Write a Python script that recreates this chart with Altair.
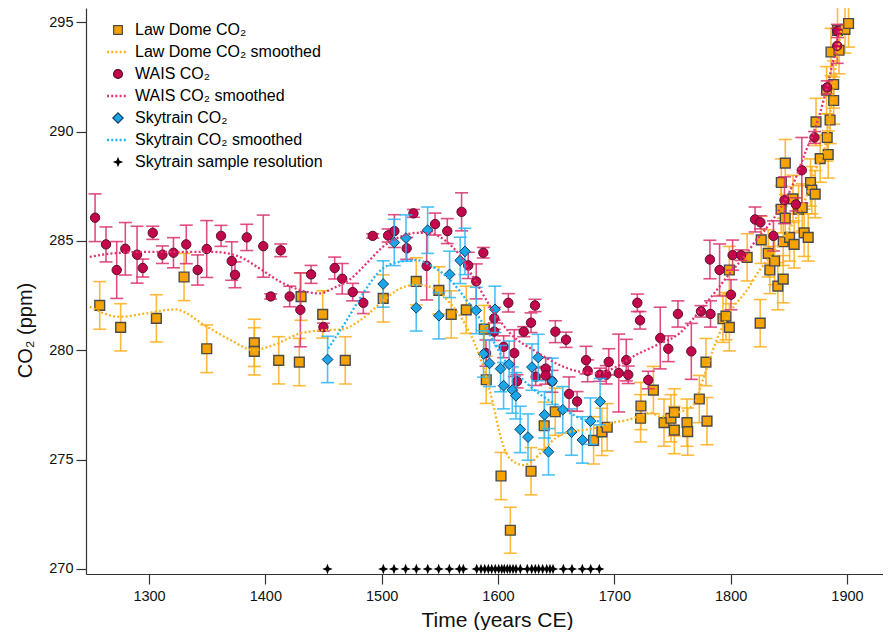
import altair as alt
import pandas as pd

# ---------------- data ----------------
ld_year = [1257.6, 1275.6, 1306.3, 1330.1, 1349.6, 1390.5, 1390.5, 1411.5, 1429.2, 1430.7,
           1449.3, 1468.7, 1501.3, 1529.7, 1549.2, 1559.8, 1572.7, 1588.2, 1589.9, 1602.6,
           1610.6, 1628.4, 1639.7, 1649.2, 1682.2, 1689.3, 1693.9, 1722.6, 1722.9, 1733.6,
           1742.7, 1748.7, 1751.6, 1751.6, 1762.5, 1763.1, 1773.1, 1778.8, 1779.7, 1793.4,
           1796.0, 1798.9, 1798.9, 1814.2, 1825.4, 1826.3, 1832.3, 1833.7, 1837.8, 1840.6,
           1843.4, 1843.6, 1845.2, 1845.2, 1846.9, 1847.0, 1850.7, 1853.6, 1854.6, 1858.4,
           1861.5, 1863.2, 1866.7, 1868.7, 1869.8, 1872.7, 1873.4, 1877.0, 1882.5, 1883.0,
           1883.9, 1885.5, 1886.3, 1888.6, 1888.6, 1891.9, 1893.2, 1898.3, 1901.4]
ld_co2 = [282.05, 281.05, 281.46, 283.35, 280.07, 280.34, 279.95, 279.54, 279.46, 282.45,
          281.64, 279.54, 282.37, 283.15, 282.74, 281.64, 281.85, 280.97, 278.65, 274.25,
          271.77, 274.47, 276.55, 277.19, 275.88, 276.27, 276.48, 276.89, 277.45, 278.18,
          276.69, 276.89, 277.16, 276.35, 276.69, 276.28, 277.77, 279.46, 276.76, 281.44,
          281.56, 281.05, 283.67, 284.25, 281.24, 285.05, 284.43, 283.67, 284.08, 282.93,
          286.45, 287.67, 283.25, 284.96, 286.04, 288.56, 285.16, 286.92, 284.84, 286.45,
          286.53, 285.37, 285.16, 287.67, 287.32, 287.14, 290.44, 288.76, 291.89, 289.73,
          288.95, 290.53, 293.64, 292.15, 291.42, 294.63, 293.72, 294.67, 294.94]
ld_err = [1.09, 1.08, 1.08, 1.08, 1.09, 1.08, 1.08, 1.08, 1.08, 1.08,
          1.08, 1.08, 1.08, 1.08, 1.08, 1.08, 1.08, 1.08, 1.08, 1.08,
          1.05, 1.08, 1.08, 1.08, 1.08, 1.08, 1.08, 1.08, 1.08, 1.08,
          1.08, 1.08, 1.08, 1.08, 1.08, 1.08, 1.08, 1.08, 1.08, 1.08,
          1.08, 1.08, 1.08, 1.08, 1.08, 1.08, 1.08, 1.08, 1.08, 1.08,
          1.08, 1.08, 1.08, 1.08, 1.08, 1.08, 1.08, 1.08, 1.08, 1.08,
          1.08, 1.08, 1.08, 1.08, 1.08, 1.08, 1.08, 1.08, 1.08, 1.08,
          1.08, 1.08, 1.08, 1.08, 1.08, 1.08, 1.08, 1.08, 1.08]

wais_year = [1253.6, 1263.0, 1272.2, 1279.6, 1289.7, 1294.6, 1303.2, 1311.5, 1321.0, 1332.0,
             1341.8, 1349.6, 1361.9, 1371.1, 1373.9, 1384.0, 1398.2, 1404.6, 1413.2, 1420.9,
             1430.1, 1439.3, 1449.9, 1459.6, 1466.1, 1475.1, 1484.2, 1492.3, 1505.5, 1510.9,
             1521.5, 1527.3, 1538.7, 1545.9, 1556.4, 1568.7, 1574.4, 1581.3, 1587.4, 1589.7,
             1596.8, 1596.8, 1604.9, 1608.9, 1614.0, 1616.3, 1622.1, 1628.4, 1631.8, 1632.4,
             1641.0, 1641.0, 1646.4, 1649.3, 1658.5, 1661.1, 1668.0, 1675.7, 1677.1, 1687.7,
             1693.1, 1695.2, 1703.8, 1710.3, 1712.0, 1719.8, 1722.1, 1729.2, 1739.5, 1746.4,
             1754.7, 1766.2, 1774.5, 1782.2, 1782.7, 1790.5, 1800.3, 1801.7, 1808.9, 1821.0,
             1825.6, 1836.8, 1846.3, 1856.1, 1861.2, 1872.1, 1883.0, 1891.6, 1891.9]
wais_co2 = [286.06, 284.84, 283.67, 284.64, 284.37, 283.76, 285.37, 284.37, 284.46, 284.84,
            283.67, 284.63, 285.23, 284.08, 283.45, 285.16, 284.76, 282.46, 284.57, 282.46,
            281.85, 283.47, 281.06, 283.76, 283.27, 282.66, 282.17, 285.23, 285.25, 285.45,
            284.66, 286.26, 283.86, 285.77, 285.45, 286.33, 283.88, 283.15, 284.46, 279.87,
            281.46, 280.85, 280.16, 282.17, 279.87, 278.58, 280.85, 281.26, 282.05, 278.79,
            279.16, 278.85, 278.58, 280.85, 280.48, 278.00, 277.66, 279.55, 279.06, 278.88,
            278.88, 279.47, 278.96, 279.55, 278.88, 282.17, 281.37, 278.64, 280.56, 280.07,
            281.66, 279.95, 281.78, 284.15, 281.66, 283.67, 282.54, 284.35, 284.35, 285.98,
            285.85, 285.23, 286.86, 286.67, 288.23, 289.73, 292.02, 293.92, 294.60]
wais_err = [1.09, 0.80, 1.30, 1.20, 1.30, 0.41, 0.30, 0.40, 0.69, 0.88,
            0.69, 1.30, 0.48, 0.88, 0.59, 0.60, 1.42, 0.12, 0.29, 0.47,
            1.69, 0.41, 0.18, 0.50, 0.70, 0.40, 0.49, 0.10, 0.30, 0.75,
            0.50, 0.18, 1.56, 0.50, 0.57, 0.87, 0.60, 0.80, 0.24, 0.60,
            0.50, 0.40, 0.50, 0.42, 1.07, 0.30, 0.23, 0.45, 0.28, 0.40,
            0.50, 0.40, 0.50, 0.50, 0.35, 0.78, 0.45, 0.63, 0.50, 0.30,
            0.42, 0.60, 1.78, 0.95, 0.40, 0.40, 0.40, 0.40, 1.41, 0.59,
            0.60, 1.28, 0.26, 0.88, 0.60, 1.19, 0.69, 0.69, 0.24, 0.57,
            0.30, 0.69, 1.07, 0.30, 1.50, 0.27, 0.30, 0.80, 0.30]

sky_year = [1453.5, 1501.3, 1510.8, 1520.9, 1529.7, 1539.5, 1549.2, 1558.4, 1567.5, 1571.6,
            1581.3, 1587.6, 1592.7, 1597.4, 1602.2, 1604.8, 1609.6, 1612.3, 1615.4, 1619.1,
            1625.8, 1629.2, 1634.6, 1640.0, 1643.4, 1646.7, 1655.7, 1663.2, 1672.6, 1679.5,
            1687.8]
sky_co2 = [279.58, 283.03, 284.93, 285.13, 281.94, 285.49, 281.58, 283.47, 284.11, 284.52,
           281.82, 279.83, 279.40, 281.87, 279.16, 278.38, 279.36, 278.18, 277.92, 276.38,
           276.03, 279.23, 279.67, 277.05, 275.36, 278.58, 277.28, 276.26, 275.90, 276.76,
           277.65]
sky_err = [1.06, 1.06, 1.06, 1.06, 1.06, 1.06, 1.06, 1.06, 1.06, 1.06,
           1.06, 1.06, 1.06, 1.06, 1.06, 1.06, 1.06, 1.06, 1.06, 1.06,
           1.06, 1.06, 1.06, 1.06, 1.06, 1.06, 1.06, 1.06, 1.06, 1.06,
           1.06]

ld_sm_year = [1249, 1275, 1298, 1322, 1350, 1370, 1390, 1407, 1430, 1450, 1465, 1481, 1500,
              1515, 1530, 1545, 1559, 1573, 1587, 1596, 1601, 1607, 1616, 1622, 1629, 1639,
              1650, 1662, 1673, 1688, 1696, 1711, 1722, 1731, 1740, 1754, 1768, 1777, 1788,
              1799, 1814, 1825, 1837, 1848, 1865, 1874, 1883, 1887, 1891, 1896]
ld_sm_co2 = [281.99, 281.53, 281.69, 281.87, 281.07, 280.47, 280.01, 280.24, 280.77, 280.92,
             280.95, 281.35, 282.2, 282.8, 283.0, 282.83, 282.14, 281.07, 279.3, 277.5, 276.3,
             275.3, 274.83, 274.75, 274.91, 275.44, 276.0, 276.28, 276.35, 276.5, 276.66,
             276.81, 277.0, 277.15, 276.96, 277.14, 277.5, 278.79, 280.47, 281.69, 282.75,
             283.67, 284.5, 285.34, 287.0, 288.39, 289.76, 291.44, 293.26, 294.86]

wais_sm_year = [1249, 1269, 1298, 1327, 1355, 1378, 1395, 1413, 1430, 1447, 1458, 1473, 1487,
                1501, 1516, 1530, 1542, 1556, 1567, 1578, 1594, 1610, 1633, 1650, 1670, 1685,
                1699, 1719, 1731, 1739, 1756, 1774, 1788, 1799, 1814, 1820, 1831, 1840, 1854,
                1865, 1871, 1880, 1887, 1894]
wais_sm_co2 = [284.27, 284.43, 284.5, 284.5, 284.5, 284.27, 283.74, 283.13, 282.75, 282.6,
               282.83, 283.25, 283.97, 284.73, 285.19, 285.37, 285.34, 284.96, 284.35, 283.4,
               281.95, 280.8, 279.93, 279.4, 279.02, 278.95, 279.17, 279.8, 280.1, 280.3,
               280.77, 281.84, 282.75, 283.5, 284.43, 284.9, 285.6, 286.26, 287.63, 289.15,
               289.91, 291.44, 292.96, 294.86]

sky_sm_year = [1454, 1470, 1484, 1500, 1516, 1530, 1544, 1559, 1573, 1587, 1594, 1605, 1616,
               1628, 1648, 1662, 1676, 1688]
sky_sm_co2 = [280.08, 281.38, 282.6, 283.7, 284.05, 284.12, 283.82, 283.21, 282.29, 281.23,
              280.6, 279.6, 278.95, 278.33, 277.57, 277.12, 276.81, 276.75]

sky_res_year = [1453.4, 1501.4, 1510.6, 1520.6, 1529.8, 1539.6, 1549.0, 1558.2, 1566.8, 1570.2,
                1581.7, 1585.4, 1588.6, 1591.7, 1594.6, 1597.7, 1600.6, 1603.2, 1605.4, 1608.0,
                1610.3, 1612.9, 1615.5, 1619.2, 1625.2, 1629.0, 1632.1, 1635.0, 1638.4, 1641.9,
                1644.7, 1647.3, 1656.2, 1663.6, 1672.5, 1679.7, 1687.1]
sky_res_co2 = 270

legend_labels = ["Law Dome CO₂", "Law Dome CO₂ smoothed", "WAIS CO₂", "WAIS CO₂ smoothed",
                 "Skytrain CO₂", "Skytrain CO₂ smoothed", "Skytrain sample resolution"]
x_ticks = [1300, 1400, 1500, 1600, 1700, 1800, 1900]
y_ticks = [270, 275, 280, 285, 290, 295]

# ---------------- styling ----------------
FONT = "Liberation Sans"
LD_FILL, LD_BAR, LD_LINE = "#F5A300", "#FFAE1A", "#FFB21E"
WA_FILL, WA_BAR, WA_LINE = "#C2084B", "#D9306D", "#E2336F"
SK_FILL, SK_BAR, SK_LINE = "#1CA6E8", "#2DB6F6", "#22B4F8"
STAR_PATH = "M0,-1L0.28,-0.28L1,0L0.28,0.28L0,1L-0.28,0.28L-1,0L-0.28,-0.28Z"

W, H = 797, 566
xs = alt.Scale(domain=[1245.8, 1931], nice=False, zero=False)
ys = alt.Scale(domain=[269.77, 295.65], nice=False, zero=False)

x_axis = alt.Axis(values=x_ticks, format="d", title="Time (years CE)", grid=False,
                  tickSize=10, labelPadding=5, labelFontSize=14.5, titleFontSize=21,
                  titleFontWeight="normal", titleBaseline="middle", titleY=46, titleX=411,
                  titleAlign="center",
                  domainColor="#333333", tickColor="#333333", labelColor="#111111",
                  titleColor="#111111", labelFont=FONT, titleFont=FONT)
y_axis = alt.Axis(values=y_ticks, format="d", title="CO₂ (ppm)", grid=False,
                  tickSize=10, labelPadding=3, labelFontSize=14.5, titleFontSize=20,
                  titleFontWeight="normal", titleBaseline="middle", titleX=-61, titleY=322,
                  titleAngle=270, domainColor="#333333", tickColor="#333333",
                  labelColor="#111111", titleColor="#111111", labelFont=FONT, titleFont=FONT)


def X(f="year"):
    return alt.X(f"{f}:Q", scale=xs, axis=x_axis)


def Y(f="co2"):
    return alt.Y(f"{f}:Q", scale=ys, axis=y_axis)


def frame(years, vals, errs=None):
    df = pd.DataFrame({"year": years, "co2": vals})
    if errs is not None:
        df["lo"] = [v - e for v, e in zip(vals, errs)]
        df["hi"] = [v + e for v, e in zip(vals, errs)]
    return df


ld_df = frame(ld_year, ld_co2, ld_err)
wa_df = frame(wais_year, wais_co2, wais_err)
sk_df = frame(sky_year, sky_co2, sky_err)


def errorbars(df, color, opacity):
    base = alt.Chart(df)
    rule = base.mark_rule(color=color, strokeWidth=1.6, opacity=opacity).encode(
        x=X(), y=Y("lo"), y2="hi:Q")
    cap_lo = base.mark_tick(color=color, orient="horizontal", size=13, thickness=1.6,
                            opacity=opacity).encode(x=X(), y=Y("lo"))
    cap_hi = base.mark_tick(color=color, orient="horizontal", size=13, thickness=1.6,
                            opacity=opacity).encode(x=X(), y=Y("hi"))
    return [rule, cap_lo, cap_hi]


def smooth(years, vals, color):
    return alt.Chart(frame(years, vals)).mark_line(
        color=color, strokeWidth=2.3, strokeDash=[2, 2.2], interpolate="monotone"
    ).encode(x=X(), y=Y())


layers = []
layers += errorbars(ld_df, LD_BAR, 0.85)
layers.append(alt.Chart(ld_df).mark_point(shape="square", size=95, filled=True, fill=LD_FILL,
                                          stroke="#4a4a4a", strokeWidth=1.4, opacity=1)
              .encode(x=X(), y=Y()))
layers += errorbars(wa_df, WA_BAR, 0.85)
layers.append(alt.Chart(wa_df).mark_point(shape="circle", size=88, filled=True, fill=WA_FILL,
                                          stroke="#5a1030", strokeWidth=1.0, opacity=1)
              .encode(x=X(), y=Y()))
layers += errorbars(sk_df, SK_BAR, 0.85)
layers.append(alt.Chart(sk_df).mark_point(shape="diamond", size=115, filled=True, fill=SK_FILL,
                                          stroke="#0d3f66", strokeWidth=1.0, opacity=1)
              .encode(x=X(), y=Y()))
layers.append(smooth(ld_sm_year, ld_sm_co2, LD_LINE))
layers.append(smooth(wais_sm_year, wais_sm_co2, WA_LINE))
layers.append(smooth(sky_sm_year, sky_sm_co2, SK_LINE))
layers.append(alt.Chart(pd.DataFrame({"year": sky_res_year, "co2": sky_res_co2}))
              .mark_point(shape=STAR_PATH, size=110, filled=True, color="#000000", opacity=1)
              .encode(x=X(), y=Y()))

# ---------------- legend (drawn in pixel space) ----------------
one = alt.Data(values=[{"k": 0}])
row_y = [22, 44, 66, 88, 110, 132, 154]
sym_x, text_x = 32, 49
sym_specs = [
    ("square", LD_FILL, "#4a4a4a", 75),
    ("line", LD_LINE, None, None),
    ("circle", WA_FILL, "#5a1030", 80),
    ("line", WA_LINE, None, None),
    ("diamond", SK_FILL, "#0d3f66", 105),
    ("line", SK_LINE, None, None),
    (STAR_PATH, "#000000", None, 110),
]
for lab, yy, (shp, col, strk, sz) in zip(legend_labels, row_y, sym_specs):
    if shp == "line":
        layers.append(alt.Chart(one).mark_rule(color=col, strokeWidth=2.3, strokeDash=[2, 2.2])
                      .encode(x=alt.value(sym_x - 11), x2=alt.value(sym_x + 10), y=alt.value(yy)))
    else:
        kw = dict(shape=shp, size=sz, filled=True, fill=col, opacity=1)
        if strk:
            kw.update(stroke=strk, strokeWidth=1.2)
        else:
            kw.update(strokeWidth=0)
        layers.append(alt.Chart(one).mark_point(**kw)
                      .encode(x=alt.value(sym_x), y=alt.value(yy)))
    layers.append(alt.Chart(one).mark_text(text=lab, align="left", baseline="middle",
                                           font=FONT, fontSize=16, color="#000000")
                  .encode(x=alt.value(text_x), y=alt.value(yy)))

chart = alt.layer(*layers).properties(
    width=W, height=H,
    padding={"left": 78, "top": 0, "right": 0, "bottom": 56},
    autosize=alt.AutoSizeParams(type="none"),
    background="white",
).configure_view(stroke=None).configure_axis(domainWidth=1.2, tickWidth=1.2)

chart.save("out.html", embed_options={"renderer": "svg", "actions": False})
